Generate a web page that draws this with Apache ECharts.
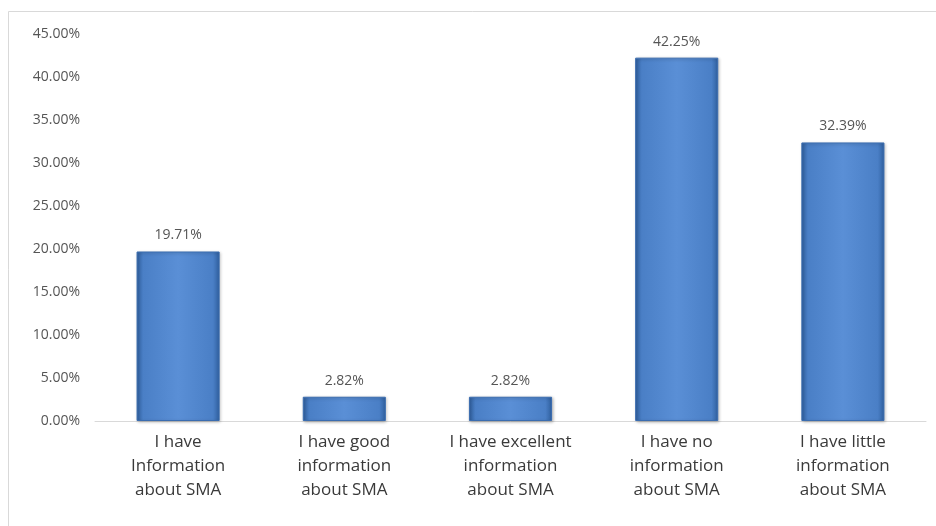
<!DOCTYPE html>
<html>
<head>
<meta charset="utf-8">
<script src="https://cdn.jsdelivr.net/npm/echarts@6/dist/echarts.min.js"></script>
<style>
  html, body { margin: 0; padding: 0; background: #fff; }
  #chart { width: 936px; height: 526px; }
</style>
</head>
<body>
<div id="chart"></div>
<script>
var categories = [
  'I have\nInformation\nabout SMA',
  'I have good\ninformation\nabout SMA',
  'I have excellent\ninformation\nabout SMA',
  'I have no\ninformation\nabout SMA',
  'I have little\ninformation\nabout SMA'
];
var shares = [19.71, 2.82, 2.82, 42.25, 32.39];
var yTicks = { min: 0, max: 45, step: 5 };

var chart = echarts.init(document.getElementById('chart'));

var barFill = new echarts.graphic.LinearGradient(0, 0, 1, 0, [
  { offset: 0, color: '#2f5f9e' },
  { offset: 0.08, color: '#4a7fc6' },
  { offset: 0.5, color: '#5a8fd6' },
  { offset: 0.92, color: '#4a7fc6' },
  { offset: 1, color: '#2f5f9e' }
]);

chart.setOption({
  animation: false,
  backgroundColor: '#fff',
  graphic: [{
    type: 'rect',
    shape: { x: 8.5, y: 11.5, width: 940, height: 530 },
    style: { fill: 'none', stroke: '#d9d9d9', lineWidth: 1 },
    silent: true
  }],
  grid: { left: 95, right: 10, top: 34, bottom: 105, containLabel: false },
  xAxis: {
    type: 'category',
    data: categories,
    axisLine: { lineStyle: { color: '#d9d9d9', width: 1 } },
    axisTick: { show: false },
    axisLabel: {
      interval: 0,
      color: '#3a3a3a',
      fontFamily: 'Open Sans',
      fontSize: 17,
      lineHeight: 24,
      margin: 9
    }
  },
  yAxis: {
    type: 'value',
    min: yTicks.min,
    max: yTicks.max,
    interval: yTicks.step,
    splitLine: { show: false },
    axisLine: { show: false },
    axisTick: { show: false },
    axisLabel: {
      color: '#555555',
      fontFamily: 'Open Sans',
      fontSize: 14,
      margin: 15,
      formatter: function (v) { return v.toFixed(2) + '%'; }
    }
  },
  series: [{
    type: 'bar',
    data: shares,
    barWidth: '50%',
    itemStyle: {
      color: barFill,
      borderColor: '#3b6db0',
      borderWidth: 1,
      shadowColor: 'rgba(0,0,0,0.25)',
      shadowBlur: 3,
      shadowOffsetX: 1,
      shadowOffsetY: 1
    },
    label: {
      show: true,
      position: 'top',
      distance: 9,
      color: '#555555',
      fontFamily: 'Open Sans',
      fontSize: 14,
      formatter: function (p) { return p.value.toFixed(2) + '%'; }
    }
  }]
});
</script>
</body>
</html>
